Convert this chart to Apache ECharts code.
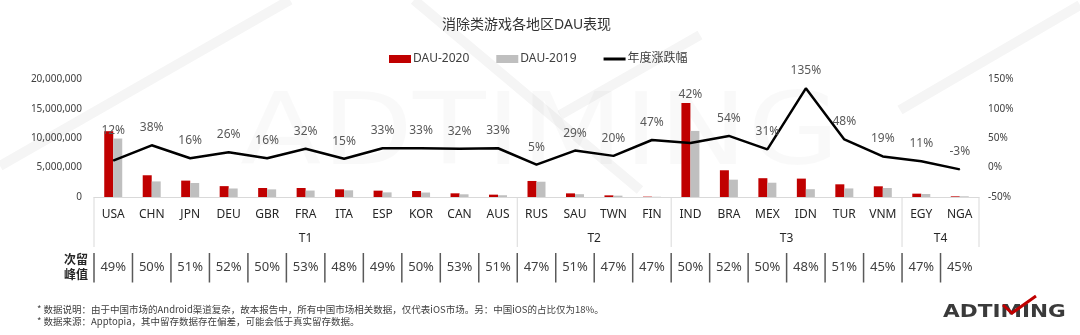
<!DOCTYPE html>
<html><head><meta charset="utf-8">
<script src="https://cdn.jsdelivr.net/npm/echarts@6/dist/echarts.min.js"></script>
<style>html,body{margin:0;padding:0;background:#fff}#c{width:1080px;height:335px}</style>
</head><body><div id="c"></div>
<script>
// ---- data ----
const countries = ['USA','CHN','JPN','DEU','GBR','FRA','ITA','ESP','KOR','CAN','AUS','RUS','SAU','TWN','FIN','IND','BRA','MEX','IDN','TUR','VNM','EGY','NGA'];
const dau2020 = [11200000,3700000,2790000,1850000,1530000,1530000,1310000,1080000,1020000,625000,400000,2730000,620000,280000,60000,16000000,4550000,3200000,3130000,2160000,1820000,570000,110000];
const dau2019 = [9950000,2650000,2380000,1450000,1300000,1100000,1140000,790000,760000,460000,300000,2600000,480000,230000,40000,11250000,2950000,2430000,1330000,1460000,1530000,510000,115000];
const growth = [12,38,16,26,16,32,15,33,33,32,33,5,29,20,47,42,54,31,135,48,19,11,-3];
const retention = [49,50,51,52,50,53,48,49,50,53,51,47,51,47,47,50,52,50,48,51,45,47,45];
const groupNames = ['T1','T2','T3','T4'];
const groupSizes = [11,4,6,2];
const rowLabel = '次留\n峰值';
const titleText = '消除类游戏各地区DAU表现';
const notes = ['* 数据说明：由于中国市场的Android渠道复杂，故本报告中，所有中国市场相关数据，仅代表iOS市场。另：中国iOS的占比仅为18%。',
               '* 数据来源：Apptopia，其中留存数据存在偏差，可能会低于真实留存数据。'];

// ---- layout / style ----
const FONT = "'Noto Sans','Noto Sans CJK SC',sans-serif";
const GL = 94, GR = 101;
const labelLift = {0: -12, 15: -31};

const groups = [];
let acc = 0;
groupSizes.forEach((n, i) => { groups.push({value: [acc, acc + n], name: groupNames[i]}); acc += n; });
const N = countries.length;

const chart = echarts.init(document.getElementById('c'), null, {renderer: 'canvas'});
chart.setOption({
  animation: false,
  textStyle: {fontFamily: FONT},
  title: {text: titleText, left: 437, top: 13,
    textStyle: {fontSize: 14, fontWeight: 'normal', color: '#333', fontFamily: FONT}},
  legend: {left: 384, top: 48, itemWidth: 22, itemHeight: 8, itemGap: 27,
    textStyle: {fontSize: 12, color: '#404040', padding: [0,0,0,-3]},
    data: [{name: 'DAU-2020', icon: 'rect'}, {name: 'DAU-2019', icon: 'rect'},
           {name: '年度涨跌幅', icon: 'path://M0,0h22v3h-22z'}]},
  grid: [
    {left: GL, right: GR, top: 79.5, height: 117.5},
    {left: GL, right: GR, top: 197, height: 50},
    {left: GL, right: GR, top: 253, height: 29.5}
  ],
  xAxis: [
    {type: 'category', gridIndex: 0, data: countries,
     axisLine: {lineStyle: {color: '#d9d9d9', width: 1}}, axisTick: {show: false},
     axisLabel: {fontSize: 12, color: '#262626', margin: 12, interval: 0}},
    {type: 'value', gridIndex: 1, min: 0, max: N, show: false},
    {type: 'value', gridIndex: 2, min: 0, max: N, show: false}
  ],
  yAxis: [
    {type: 'value', gridIndex: 0, min: 0, max: 20000000, interval: 5000000,
     axisLine: {show: false}, axisTick: {show: false}, splitLine: {show: false},
     axisLabel: {fontSize: 10, color: '#404040', margin: 12,
       formatter: v => v.toString().replace(/\B(?=(\d{3})+(?!\d))/g, ',')}},
    {type: 'value', gridIndex: 0, min: -50, max: 150, interval: 50, position: 'right',
     axisLine: {show: false}, axisTick: {show: false}, splitLine: {show: false},
     axisLabel: {fontSize: 10, color: '#404040', margin: 9, formatter: '{value}%'}},
    {type: 'value', gridIndex: 1, min: 0, max: 1, show: false},
    {type: 'category', gridIndex: 2, data: [rowLabel],
     axisLine: {show: false}, axisTick: {show: false},
     axisLabel: {fontSize: 12, color: '#262626', lineHeight: 15, margin: 6, fontWeight: 'bold'}}
  ],
  graphic: [
    {type: 'line', silent: true, z: -10, shape: {x1: 0, y1: 166, x2: 290, y2: 0}, style: {stroke: '#f5f5f5', lineWidth: 10}},
    {type: 'line', silent: true, z: -10, shape: {x1: 414, y1: 0, x2: 640, y2: 190}, style: {stroke: '#f5f5f5', lineWidth: 10}},
    {type: 'line', silent: true, z: -10, shape: {x1: 560, y1: 115, x2: 700, y2: 35}, style: {stroke: '#f5f5f5', lineWidth: 10}},
    {type: 'line', silent: true, z: -10, shape: {x1: 900, y1: 110, x2: 1080, y2: 5}, style: {stroke: '#f5f5f5', lineWidth: 10}},
    {type: 'text', silent: true, z: -10, x: 240, y: 138, scaleX: 1.19,
     style: {text: 'ADTIMING', font: '100px "DejaVu Sans"', fill: 'rgba(0,0,0,0.025)', verticalAlign: 'middle'}},
    {type: 'text', silent: true, x: 943, y: 312, scaleX: 1.2,
     style: {text: 'ADTIMING', font: 'bold 18px "DejaVu Sans"', fill: '#3a3a3a', verticalAlign: 'middle'}},
    {type: 'polyline', silent: true, shape: {points: [[1003,305],[1012,313],[1036,296]]},
     style: {stroke: '#C00000', lineWidth: 3, fill: null}},
    {type: 'text', silent: true, left: 37, top: 303,
     style: {text: notes.join('\n'), font: '9.5px "Noto Sans CJK SC"', fill: '#404040', lineHeight: 12}}
  ],
  series: [
    {name: 'DAU-2020', type: 'bar', xAxisIndex: 0, yAxisIndex: 0, data: dau2020,
     barWidth: 9, barGap: '0%', itemStyle: {color: '#C00000'}},
    {name: 'DAU-2019', type: 'bar', xAxisIndex: 0, yAxisIndex: 0, data: dau2019,
     barWidth: 9, barGap: '0%', itemStyle: {color: '#BFBFBF'}},
    {name: '年度涨跌幅', type: 'line', xAxisIndex: 0, yAxisIndex: 1, z: 5,
     data: growth.map((v, i) => labelLift[i] !== undefined ? {value: v, label: {offset: [0, labelLift[i]]}} : v),
     symbol: 'circle', symbolSize: 1, itemStyle: {color: '#000'},
     lineStyle: {color: '#000', width: 2.5},
     label: {show: true, position: 'top', distance: 11, fontSize: 12, color: '#595959', formatter: '{c}%'}},
    {type: 'custom', xAxisIndex: 1, yAxisIndex: 2, data: groups, silent: true,
     renderItem: (params, api) => {
       const cs = params.coordSys;
       const x0 = api.coord([api.value(0), 0])[0];
       const x1 = api.coord([api.value(1), 0])[0];
       const ch = [
         {type: 'line', shape: {x1: x0, y1: cs.y, x2: x0, y2: cs.y + cs.height}, style: {stroke: '#d9d9d9', lineWidth: 1}},
         {type: 'text', x: (x0 + x1) / 2, y: cs.y + cs.height - 8,
          style: {text: groupNames[params.dataIndex], fontSize: 12, fill: '#262626', fontFamily: FONT, align: 'center', verticalAlign: 'middle'}}
       ];
       if (params.dataIndex === groups.length - 1)
         ch.push({type: 'line', shape: {x1: x1, y1: cs.y, x2: x1, y2: cs.y + cs.height}, style: {stroke: '#d9d9d9', lineWidth: 1}});
       return {type: 'group', children: ch};
     }},
    {type: 'custom', xAxisIndex: 2, yAxisIndex: 3, silent: true,
     data: retention.map((v, i) => [i, v]),
     renderItem: (params, api) => {
       const cs = params.coordSys;
       const i = api.value(0);
       const x0 = api.coord([i, 0])[0];
       const xc = api.coord([i + 0.5, 0])[0];
       return {type: 'group', children: [
         {type: 'line', shape: {x1: x0, y1: cs.y, x2: x0, y2: cs.y + cs.height}, style: {stroke: '#595959', lineWidth: 1.5}},
         {type: 'text', x: xc, y: cs.y + cs.height / 2,
          style: {text: api.value(1) + '%', fontSize: 13, fill: '#404040', fontFamily: FONT, align: 'center', verticalAlign: 'middle'}}
       ]};
     }}
  ]
});
</script></body></html>
